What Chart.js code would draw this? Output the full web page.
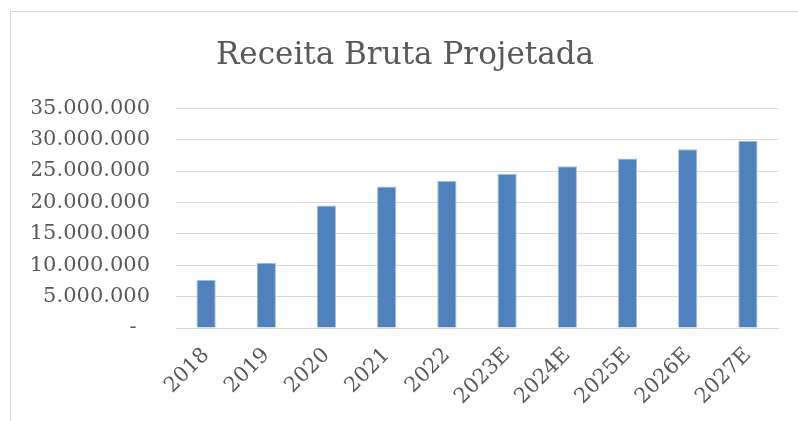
<!DOCTYPE html>
<html>
<head>
<meta charset="utf-8">
<script src="https://cdn.jsdelivr.net/npm/chart.js@4"></script>
<style>
  html, body { margin: 0; padding: 0; background: #fff; overflow: hidden; }
  #box {
    position: absolute; left: 10px; top: 11px;
    width: 794px; height: 430px;
    border-left: 1px solid #d9d9d9; border-top: 1px solid #d9d9d9;
  }
  #box canvas { display: block; }
</style>
</head>
<body>
<div id="box"><canvas id="barChart" width="794" height="420"></canvas></div>
<script>
// Receita bruta por ano
const anos = ["2018", "2019", "2020", "2021", "2022", "2023E", "2024E", "2025E", "2026E", "2027E"];
const receita = [7700000, 10400000, 19500000, 22550000, 23400000, 24550000, 25750000, 27000000, 28450000, 29800000];

const tituloGrafico = "Receita Bruta Projetada";

// formato brasileiro: 35.000.000, zero vira "-"
function formatarValor(v) {
  if (v === 0) return "-  ";
  return String(Math.round(v)).replace(/\B(?=(\d{3})+(?!\d))/g, ".");
}

const corTexto = "#595959";
const fonte = "'DejaVu Serif', serif";

new Chart(document.getElementById("barChart"), {
  type: "bar",
  data: {
    labels: anos,
    datasets: [
      {
        data: receita,
        backgroundColor: "#4f81bd",
        borderColor: "#a7bfdf",
        borderWidth: 1,
        barPercentage: 0.32,
        categoryPercentage: 1,
      },
    ],
  },
  options: {
    responsive: false,
    animation: false,
    layout: { autoPadding: false, padding: { left: 21, right: 27, top: 0, bottom: 22 } },
    plugins: {
      legend: { display: false },
      tooltip: { enabled: false },
      title: {
        display: true,
        text: tituloGrafico,
        color: corTexto,
        font: { family: fonte, size: 31, weight: "normal" },
        padding: { top: 25, bottom: 34 },
      },
    },
    scales: {
      x: {
        grid: { display: false },
        border: { display: true, color: "#d9d9d9" },
        ticks: {
          color: corTexto,
          font: { family: fonte, size: 21 },
          minRotation: 45,
          maxRotation: 45,
          padding: 7,
        },
        afterFit: (scale) => { scale.height = 82; },
      },
      y: {
        min: 0,
        max: 35000000,
        grid: { color: "#d9d9d9", drawTicks: false },
        border: { display: false },
        ticks: {
          stepSize: 5000000,
          autoSkip: false,
          color: corTexto,
          font: { family: fonte, size: 21 },
          padding: 26,
          callback: (v) => formatarValor(v),
        },
        afterFit: (scale) => { scale.width = 144; },
      },
    },
  },
});
</script>
</body>
</html>
